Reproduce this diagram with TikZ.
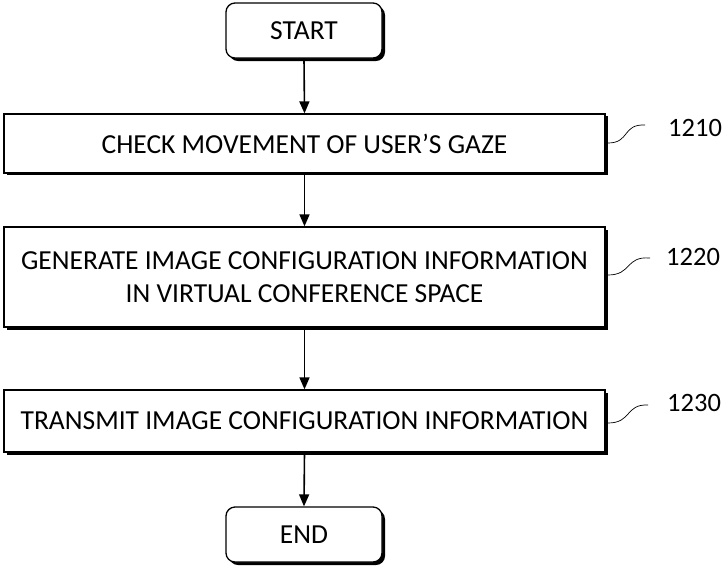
\documentclass[tikz,border=0pt]{standalone}
\usepackage{fontspec}
\setmainfont{Carlito}
\usetikzlibrary{arrows.meta}
\begin{document}
\begin{tikzpicture}[x=1pt,y=-1pt,
  every node/.style={font=\fontsize{27.5}{33}\selectfont},
  box/.style={draw=black,line width=1.3pt,fill=white,minimum width=601pt,align=center,inner sep=0pt},
  term/.style={box,rounded corners=9pt,minimum width=156pt,minimum height=55pt},
  flow/.style={-{Triangle[length=12pt,width=10pt]},line width=1.6pt},
  lead/.style={line width=0.7pt},
  refnum/.style={anchor=west,inner sep=0pt,font=\fontsize{26.5}{30}\selectfont}]
\useasboundingbox (0,0) rectangle (726,566);

% terminals and process steps (drop shadow drawn first)
\fill[rounded corners=9pt] (229,6) rectangle (385,61);
\node[term] (start) at (304,30.5) {START};

\fill (7,116) rectangle (608,175);
\node[box,minimum height=59pt] (s1) at (304.5,143.5) {CHECK MOVEMENT OF USER'S GAZE};

\fill (7,230) rectangle (608,330);
\node[box,minimum height=100pt] (s2) at (304.5,277) {GENERATE IMAGE CONFIGURATION INFORMATION\\IN VIRTUAL CONFERENCE SPACE};

\fill (7,393) rectangle (608,455);
\node[box,minimum height=62pt] (s3) at (304.5,421) {TRANSMIT IMAGE CONFIGURATION INFORMATION};

\fill[rounded corners=9pt] (229,510) rectangle (385,565);
\node[term] (end) at (304,534.5) {END};

% flow arrows
\draw[flow] (start.south) -- (s1.north);
\draw[flow] (s1.south) -- (s2.north);
\draw[flow] (s2.south) -- (s3.north);
\draw[flow] (s3.south) -- (end.north);

% reference numerals with lead lines
\coordinate (l1) at (645,125);
\coordinate (l2) at (650,258);
\coordinate (l3) at (648,405);
\draw[lead] (608,143) .. controls (630,143) and (622,124) .. (l1);
\draw[lead] (608,275) .. controls (632,275) and (625,256) .. (l2);
\draw[lead] (608,423) .. controls (632,423) and (625,404) .. (l3);
\node[refnum] (n1) at (668,128) {1210};
\node[refnum] (n2) at (666,257) {1220};
\node[refnum] (n3) at (667,403) {1230};
\end{tikzpicture}
\end{document}
